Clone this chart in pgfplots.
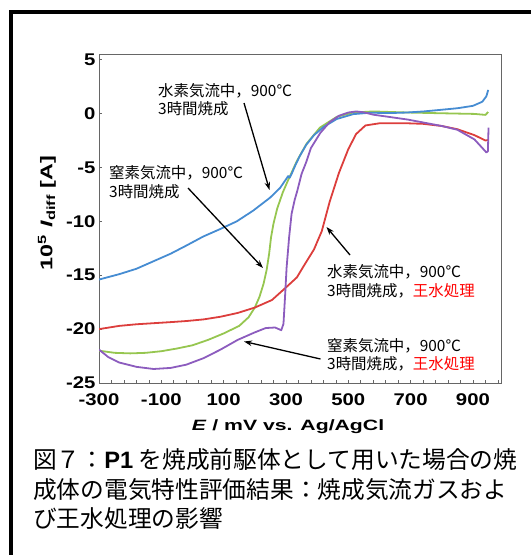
\documentclass[border=0pt]{standalone}
\usepackage{pgfplots}
\pgfplotsset{compat=1.18}
\usetikzlibrary{arrows.meta}
\usepackage{fontspec}
\setmainfont{Liberation Sans}
\newfontfamily\jp{Noto Sans CJK JP}
\definecolor{cblue}{RGB}{70,140,210}
\definecolor{cred}{RGB}{220,62,60}
\definecolor{cgreen}{RGB}{150,198,80}
\definecolor{cpurple}{RGB}{140,92,190}
\newcommand{\tl}[1]{\scalebox{1.2}[1]{#1}}
\begin{document}
\begin{tikzpicture}
\path[use as bounding box] (0,0) rectangle (531bp,-555bp);
\draw[line width=4bp] (11bp,-555bp) -- (11bp,-12bp) -- (531bp,-12bp);
\begin{axis}[
  at={(99bp,-383bp)}, anchor=south west,
  width=402bp, height=329bp, scale only axis,
  xmin=-300, xmax=990, ymin=-25, ymax=5.53,
  axis line style={draw=black!60, line width=0.8bp},
  xtick={-300,-100,...,900},
  xticklabels={\tl{-300},\tl{-100},\tl{100},\tl{300},\tl{500},\tl{700},\tl{900}},
  minor xtick={-260,-220,...,980},
  major x tick style={draw=none},
  minor x tick style={draw=black!60, line width=0.6bp},
  minor tick length=2.7bp,
  ytick={-25,-20,...,5},
  yticklabels={\tl{-25},\tl{-20},\tl{-15},\tl{-10},\tl{-5},\tl{0},\tl{5}},
  major y tick style={draw=black!60, line width=0.6bp},
  major tick length=3.3bp,
  tick align=inside,
  xtick pos=bottom, ytick pos=left,
  tick label style={font=\fontsize{17}{17}\selectfont\bfseries},
  xticklabel style={yshift=-7bp},
  every axis plot/.append style={line width=1.8bp, line join=round, no marks},
]
% green: nitrogen, 900C, 3h
\addplot[cgreen] coordinates {
(-300,-22.0) (-250,-22.2) (-200,-22.25) (-150,-22.2) (-100,-22.05) (-50,-21.8)
(0,-21.5) (50,-21.0) (100,-20.4) (150,-19.7) (180,-18.9) (200,-18.0) (215,-17.0)
(228,-15.8) (238,-14.5) (246,-13.0) (252,-11.5) (260,-10.2) (272,-8.8) (290,-7.3)
(305,-6.3) (335,-4.4) (366,-2.8) (409,-1.3) (463,-0.3) (516,0.1) (580,0.2)
(690,0.1) (800,0.03) (905,-0.03) (940,-0.12) (949,0.15)
};
% red: hydrogen, aqua regia
\addplot[cred] coordinates {
(-300,-20.0) (-235,-19.7) (-180,-19.55) (-125,-19.45) (-70,-19.35) (-20,-19.25)
(35,-19.1) (90,-18.85) (145,-18.5) (200,-18.0) (255,-17.3) (305,-16.0) (335,-15.2)
(360,-14.0) (390,-12.6) (415,-10.9) (440,-8.2) (470,-5.5) (500,-3.3) (525,-1.9)
(555,-1.1) (600,-0.9) (690,-0.9) (740,-0.95) (800,-1.15) (850,-1.45) (905,-2.0)
(940,-2.5) (948,-2.45)
};
% blue: hydrogen, 900C, 3h
\addplot[cblue] coordinates {
(-300,-15.4) (-235,-14.9) (-180,-14.4) (-125,-13.7) (-70,-13.0) (-20,-12.25)
(35,-11.4) (90,-10.7) (142,-10.0) (195,-9.0) (249,-7.8) (281,-6.9) (300,-6.1)
(307,-5.8) (312,-5.95) (318,-5.6) (330,-4.8) (345,-3.9) (365,-2.9) (390,-2.0)
(420,-1.25) (463,-0.5) (516,-0.05) (570,0.08) (634,0.05) (688,0.1) (742,0.2)
(797,0.35) (851,0.5) (900,0.72) (930,1.1) (943,1.6) (949,2.2)
};
% purple: nitrogen, aqua regia
\addplot[cpurple] coordinates {
(-300,-21.9) (-270,-22.6) (-235,-23.1) (-180,-23.5) (-125,-23.7) (-70,-23.6)
(-20,-23.3) (35,-22.7) (90,-21.9) (145,-21.0) (200,-20.3) (235,-19.9) (265,-19.85)
(285,-20.1) (292,-19.5) (297,-17.0) (302,-14.3) (310,-11.5) (318,-9.3) (328,-8.0)
(336,-7.2) (350,-5.6) (365,-4.5) (380,-3.2) (410,-1.8) (440,-0.8) (470,-0.2)
(500,0.1) (525,0.2) (550,0.12) (580,-0.1) (690,-0.55) (800,-1.15) (850,-1.5)
(905,-2.4) (943,-3.6) (948,-3.5) (950,-1.3)
};
\end{axis}
% axis labels
\node[rotate=90] at (47bp,-213bp) {\scalebox{1.38}[1]{\fontsize{17}{17}\selectfont\bfseries 10\textsuperscript{5} \textit{I}\textsubscript{diff} [A]}};
\node at (288bp,-427bp) {\scalebox{1.42}[1]{\fontsize{15}{15}\selectfont\bfseries\textit{E} / mV vs. Ag/AgCl}};
% annotations
\begin{scope}[every node/.style={anchor=base west, inner sep=0pt, font=\jp\fontsize{15.5}{19}\selectfont}]
\node at (158bp,-96bp) {水素気流中，900℃};
\node at (158bp,-114bp) {3時間焼成};
\node at (109bp,-178bp) {窒素気流中，900℃};
\node at (109bp,-197bp) {3時間焼成};
\node at (327bp,-277bp) {水素気流中，900℃};
\node at (327bp,-296bp) {3時間焼成，\textcolor{red}{王水処理}};
\node at (327bp,-351bp) {窒素気流中，900℃};
\node at (327bp,-369bp) {3時間焼成，\textcolor{red}{王水処理}};
\end{scope}
\begin{scope}[line width=1.3bp, -{Stealth[length=8bp,width=5.5bp]}]
\draw (244bp,-103bp) -- (269.5bp,-190bp);
\draw (188bp,-188bp) -- (263bp,-268bp);
\draw (350bp,-255bp) -- (326.5bp,-227bp);
\draw (320.5bp,-359bp) -- (244bp,-341.5bp);
\end{scope}
% caption
\begin{scope}[every node/.style={anchor=base west, inner sep=0pt, font=\jp\fontsize{23.8}{29}\selectfont}]
\node at (33bp,-468bp) {図７：{\normalfont\bfseries P1} を焼成前駆体として用いた場合の焼};
\node at (33bp,-498bp) {成体の電気特性評価結果：焼成気流ガスおよ};
\node at (33bp,-527bp) {び王水処理の影響};
\end{scope}
\end{tikzpicture}
\end{document}
